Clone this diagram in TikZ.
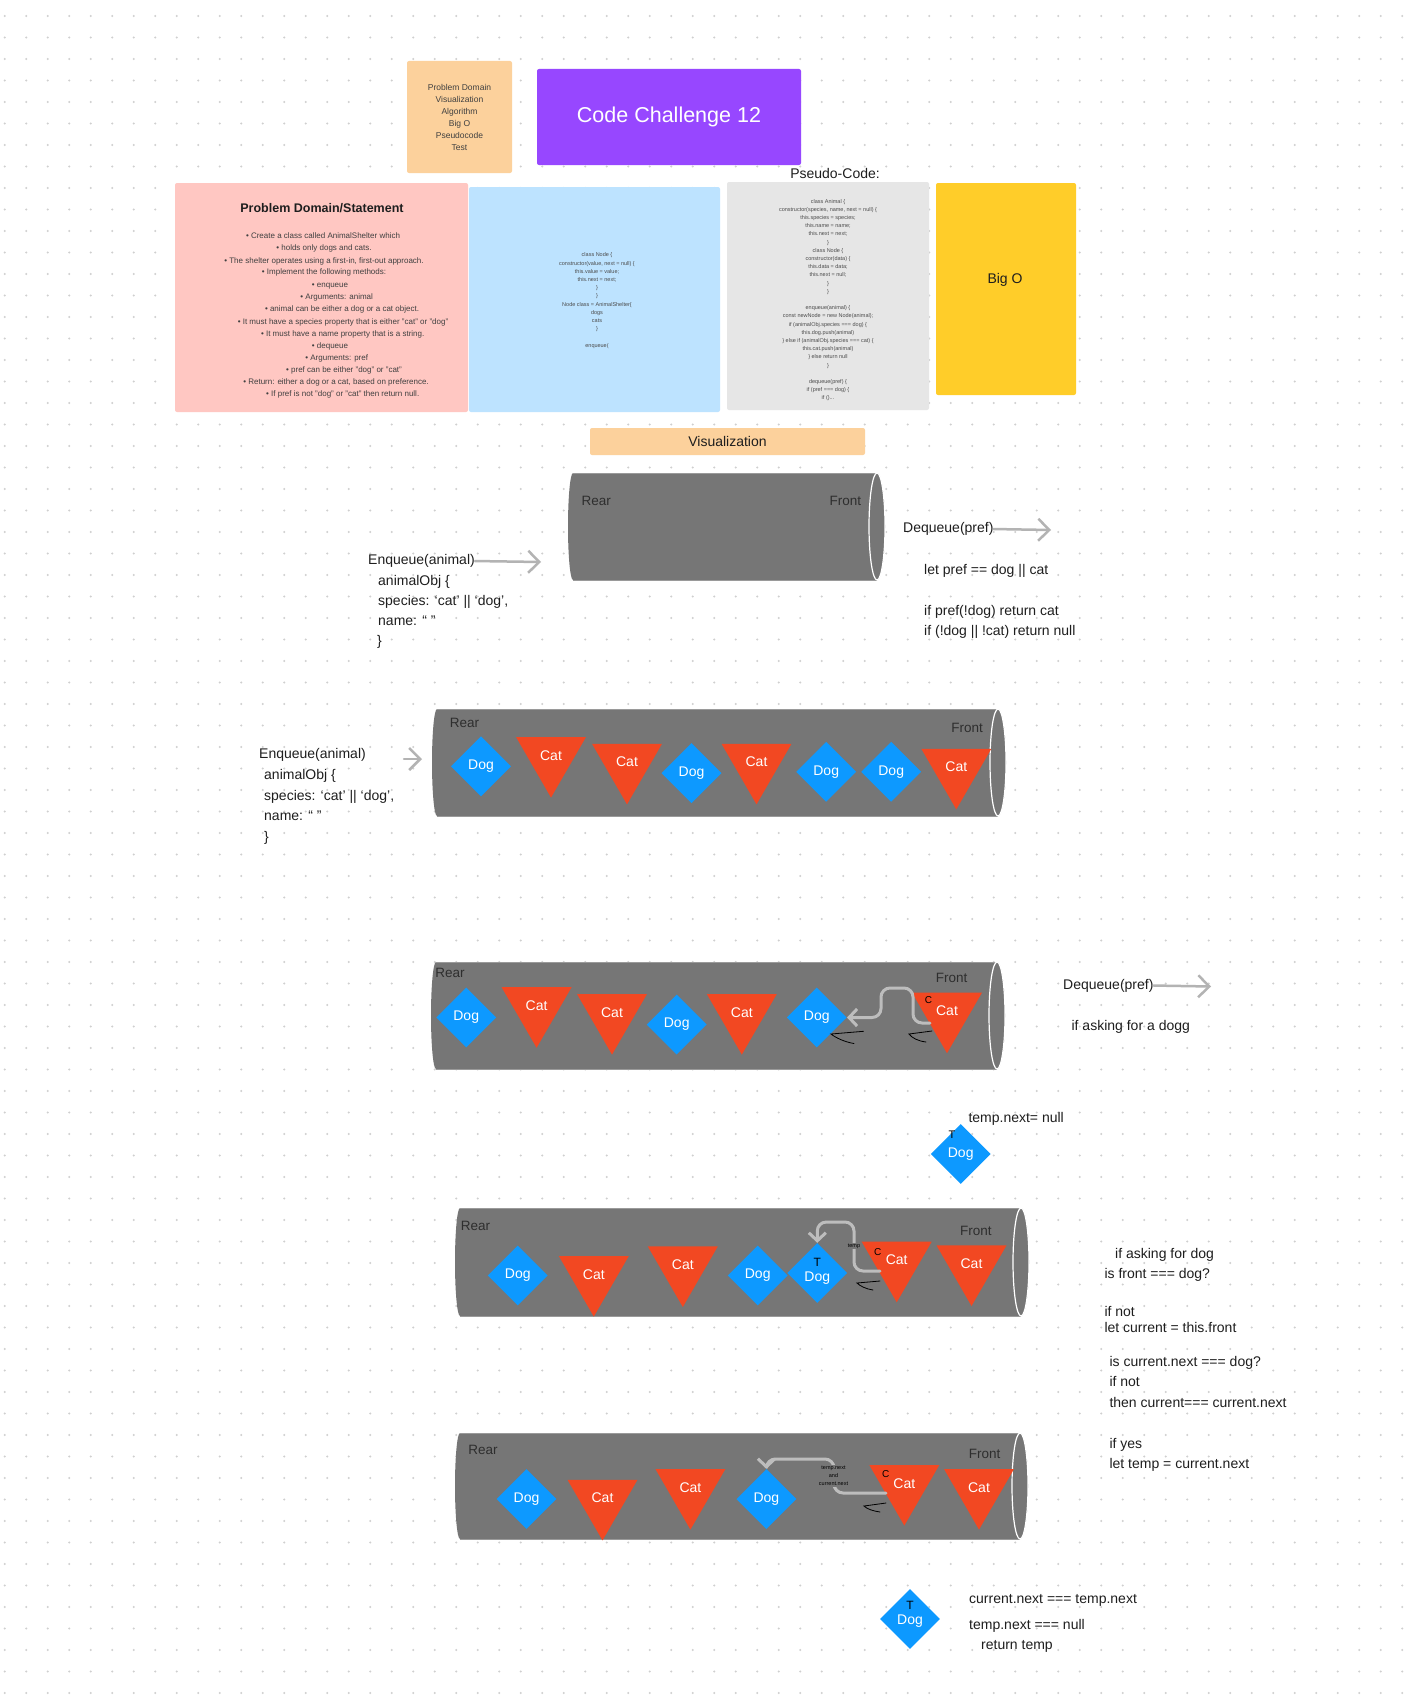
\documentclass[tikz,border=0pt]{standalone}
\usepackage{fontspec}
\setmainfont{Liberation Sans}
\usetikzlibrary{arrows.meta,shapes.geometric}
\definecolor{stickyc}{HTML}{FCD19C}
\definecolor{purplec}{HTML}{9747FF}
\definecolor{pinkc}{HTML}{FFC7C2}
\definecolor{bluec}{HTML}{BDE3FF}
\definecolor{grayboxc}{HTML}{E6E6E6}
\definecolor{yellowc}{HTML}{FFCD29}
\definecolor{cylc}{HTML}{767676}
\definecolor{cyledge}{HTML}{9A9A9A}
\definecolor{dogc}{HTML}{0D99FF}
\definecolor{catc}{HTML}{F24822}
\definecolor{arrc}{HTML}{B3B3B3}
\definecolor{connc}{HTML}{BDBDBD}
\definecolor{ink}{HTML}{1E1E1E}
\definecolor{dotc}{HTML}{CFCFCF}
\newcommand\fs[2]{\fontsize{#1}{#2}\selectfont}
\newcommand\tdog[1]{\raisebox{#1}[0pt][0pt]{\begin{tabular}{@{}c@{}}{\color{black}\fs{12}{15}T}\\Dog\end{tabular}}}
\newcommand\drawcyl[4]{%
  \pgfmathsetmacro\cylry{(#4-#3)/2}%
  \fill[cylc] (#1+5,#3) -- (#2,#3) arc[start angle=-90,end angle=90,x radius=8,y radius=\cylry] -- (#1+5,#4) arc[start angle=90,end angle=270,x radius=5,y radius=\cylry] -- cycle;
  \draw[cyledge,line width=0.8] (#1+5,#3) -- (#2,#3) (#1+5,#4) -- (#2,#4);
  \draw[white,line width=1.2,fill=cylc] (#2,#3+\cylry) ellipse[x radius=8,y radius=\cylry];
}
\begin{document}
\begin{tikzpicture}[x=1pt,y=-1pt,
  txt/.style={text=ink,inner sep=0,font=\fs{14}{17},yshift=-3pt},
  lbl/.style={text=black!82,inner sep=0,font=\fs{13.5}{16},yshift=-2.5pt},
  box/.style={rounded corners=2,inner sep=0},
  dogn/.style={diamond,fill=dogc,minimum width=60,minimum height=60,inner sep=0,text=white,font=\fs{14}{15}},
  catn/.style={regular polygon,regular polygon sides=3,shape border rotate=180,fill=catc,minimum size=80.8,inner sep=0,text=white,font=\fs{14}{16}},
  tlab/.style={text=black,inner sep=0,font=\fs{11}{12}},
  clab/.style={text=black,inner sep=0,font=\fs{10}{11}},
  tiny/.style={text=black,inner sep=1,fill=cylc,font=\fs{5.5}{8},align=center},
  bigarr/.style={draw=arrc,line width=2.5,line cap=round,-{Straight Barb[length=11pt,width=22pt]}},
  conn/.style={draw=connc,line width=3,rounded corners=9,line cap=round,-{Straight Barb[length=8pt,width=17pt]}},
  scrib/.style={draw=black,line width=0.8,line cap=round},
  pline/.style={text=ink!85,inner sep=0,font=\fs{8}{10},yshift=-1.5pt},
  code/.style={text=ink!80,inner sep=0,align=center,font=\fs{5.5}{8.2}}
]
\useasboundingbox (0,0) rectangle (1410,1702);
\fill[white] (0,0) rectangle (1410,1702);
\foreach \i in {0,...,65}{\foreach \j in {0,...,78}{\fill[dotc] (4.8+21.5*\i,16+21.5*\j) circle[radius=1.1];}}

% ---------- top boxes ----------
\node[box,fill=stickyc,minimum width=105,minimum height=112,align=center,text=ink!85,font=\fs{8.5}{12}] (sticky) at (459.5,117) {Problem Domain\\Visualization\\Algorithm\\Big O\\Pseudocode\\Test};
\node[box,fill=purplec,minimum width=264,minimum height=96,text=white,font=\fs{21.5}{24}] (title) at (669,117) {\raisebox{-3pt}{Code Challenge 12}};
\node[txt,anchor=mid] (pclabel) at (835,173) {Pseudo-Code:};
\node[box,fill=pinkc,minimum width=293,minimum height=229] (pink) at (321.5,297.5) {};
\node[box,fill=bluec,minimum width=251,minimum height=225] (blue) at (594.5,299.5) {};
\node[box,fill=grayboxc,minimum width=202,minimum height=228] (graybox) at (828,296) {};
\node[box,fill=yellowc,minimum width=140,minimum height=212] (bigo) at (1006,289) {};
\node[txt,anchor=mid] (bigotxt) at (1005,278) {Big O};
\node[box,fill=stickyc,minimum width=275,minimum height=27,text=ink,font=\fs{14}{17}] (viz) at (727.5,441.5) {\raisebox{-1pt}{Visualization}};

\node[inner sep=0,text=ink,font=\bfseries\fs{12.5}{15},anchor=mid,yshift=-2pt] (pdtitle) at (322,208) {Problem Domain/Statement};
\node[pline,anchor=mid] (p1) at (323,234.3) {• Create a class called AnimalShelter which};
\node[pline,anchor=mid] (p2) at (324,246.7) {• holds only dogs and cats.};
\node[pline,anchor=mid] (p3) at (324,259) {• The shelter operates using a first-in, first-out approach.};
\node[pline,anchor=mid] (p4) at (324,270.7) {• Implement the following methods:};
\node[pline,anchor=mid] (p5) at (330,283.3) {• enqueue};
\node[pline,anchor=mid] (p6) at (336.7,295.7) {• Arguments: animal};
\node[pline,anchor=mid] (p7) at (342,307.3) {• animal can be either a dog or a cat object.};
\node[pline,anchor=mid] (p8) at (343,320) {• It must have a species property that is either "cat" or "dog"};
\node[pline,anchor=mid] (p9) at (342.7,332) {• It must have a name property that is a string.};
\node[pline,anchor=mid] (p10) at (330,344) {• dequeue};
\node[pline,anchor=mid] (p11) at (336.7,356) {• Arguments: pref};
\node[pline,anchor=mid] (p12) at (344,368.3) {• pref can be either "dog" or "cat"};
\node[pline,anchor=mid] (p13) at (336,380.7) {• Return: either a dog or a cat, based on preference.};
\node[pline,anchor=mid] (p14) at (342.7,392.7) {• If pref is not "dog" or "cat" then return null.};

\node[code] (bluecode) at (597,300.5) {class Node \{\\constructor(value, next = null) \{\\this.value = value;\\this.next = next;\\\}\\\}\\Node class = AnimalShelter\{\\dogs\\cats\\\}\\~\\enqueue(};
\node[code] (graycode) at (828,300) {class Animal \{\\constructor(species, name, next = null) \{\\this.species = species;\\this.name = name;\\this.next = next;\\\}\\class Node \{\\constructor(data) \{\\this.data = data;\\this.next = null;\\\}\\\}\\~\\enqueue(animal) \{\\const newNode = new Node(animal);\\if (animalObj.species === dog) \{\\this.dog.push(animal)\\\} else if (animalObj.species === cat) \{\\this.cat.push(animal)\\\} else return null\\\}\\~\\dequeue(pref) \{\\if (pref === dog) \{\\if ()...};

% ---------- cylinder 1 ----------
\drawcyl{568}{877}{473}{580}
\node[lbl,anchor=mid] (rear1) at (596.3,500) {Rear};
\node[lbl,anchor=mid] (front1) at (845.3,500) {Front};

\node[txt,anchor=mid west] (enq1) at (368,559) {Enqueue(animal)};
\node[txt,anchor=mid west] (enq1b) at (378,580) {animalObj \{};
\node[txt,anchor=mid west] (enq1c) at (378,599.5) {species: ‘cat’ || ‘dog’,};
\node[txt,anchor=mid west] (enq1d) at (378,620) {name: “ ”};
\node[txt,anchor=mid west] (enq1e) at (377,640) {\}};
\coordinate (a1e) at (541,562);
\draw[bigarr] (enq1.east) -- (a1e);

\node[txt,anchor=mid west] (dq1) at (903,527) {Dequeue(pref)};
\coordinate (a3e) at (1051,530);
\draw[bigarr] (dq1.east) -- (a3e);
\node[txt,anchor=mid west] (dq1b) at (924,569) {let pref == dog || cat};
\node[txt,anchor=mid west] (dq1c) at (924,610) {if pref(!dog) return cat};
\node[txt,anchor=mid west] (dq1d) at (924,630) {if (!dog || !cat) return null};

% ---------- cylinder 2 ----------
\drawcyl{432}{998}{709}{816}
\node[lbl,anchor=mid] (rear2) at (464.5,722.4) {Rear};
\node[lbl,anchor=mid] (front2) at (967,727) {Front};
\node[dogn] (d21) at (481,766.4) {Dog};
\node[catn] (c21) at (551,757.2) {\raisebox{4pt}{Cat}};
\node[catn] (c22) at (627,764) {\raisebox{4pt}{Cat}};
\node[dogn] (d22) at (691.5,773.1) {Dog};
\node[catn] (c23) at (756.5,764) {\raisebox{4pt}{Cat}};
\node[dogn] (d23) at (826.2,771.8) {Dog};
\node[dogn] (d24) at (891.2,771.8) {Dog};
\node[catn] (c24) at (956.3,769) {\raisebox{4pt}{Cat}};

\node[txt,anchor=mid west] (enq2) at (259,753) {Enqueue(animal)};
\node[txt,anchor=mid west] (enq2b) at (264,774) {animalObj \{};
\node[txt,anchor=mid west] (enq2c) at (264,794.7) {species: ‘cat’ || ‘dog’,};
\node[txt,anchor=mid west] (enq2d) at (264,815.3) {name: “ ”};
\node[txt,anchor=mid west] (enq2e) at (264,836) {\}};
\coordinate (a2s) at (404,759);
\coordinate (a2e) at (422,759);
\draw[bigarr] (a2s) -- (a2e);

% ---------- cylinder 3 ----------
\drawcyl{431}{997}{962}{1069}
\node[lbl,anchor=mid] (rear3) at (450,972) {Rear};
\node[lbl,anchor=mid] (front3) at (951.5,977.5) {Front};
\node[dogn] (d31) at (466.2,1017.5) {Dog};
\node[catn] (c31) at (536.6,1007.4) {\raisebox{4pt}{Cat}};
\node[catn] (c32) at (612,1014.2) {\raisebox{4pt}{Cat}};
\node[dogn] (d32) at (676.7,1024.6) {Dog};
\node[catn] (c33) at (741.8,1014.2) {\raisebox{4pt}{Cat}};
\node[dogn] (d33) at (816.8,1017.5) {Dog};
\node[catn] (c34) at (947,1012.8) {\raisebox{4pt}{Cat}};
\node[clab] (cc3) at (928.5,1000) {C};
\coordinate (s3) at (930,1023);
\draw[conn] (s3) -- (913,1023) -- (913,988) -- (881,988) -- (881,1017.5) -- (d33.east);
\draw[scrib] (863.5,1031.3) -- (831,1034) .. controls (836,1038) and (845,1042) .. (854,1043.5);
\draw[scrib] (932,1031) -- (909,1034) .. controls (912,1038) and (918,1041) .. (926,1042);

\node[txt,anchor=mid west] (dq2) at (1063,983.5) {Dequeue(pref)};
\coordinate (a4e) at (1211,986.5);
\draw[bigarr] (dq2.east) -- (a4e);
\node[txt,anchor=mid west] (dq2b) at (1071.4,1024.7) {if asking for a dogg};

\node[txt,anchor=mid west] (tnn) at (968.3,1117) {temp.next= null};
\node[dogn] (td1) at (960.7,1154) {\raisebox{-4pt}{Dog}};
\node[tlab] (tt1) at (952,1135) {T};

% ---------- cylinder 4 ----------
\drawcyl{455}{1021}{1208}{1316}
\node[lbl,anchor=mid] (rear4) at (475.5,1225.6) {Rear};
\node[lbl,anchor=mid] (front4) at (975.9,1230) {Front};
\node[dogn] (d41) at (517.8,1275.5) {Dog};
\node[catn] (c41) at (593.8,1276.2) {\raisebox{4pt}{Cat}};
\node[catn] (c42) at (682.8,1266.6) {\raisebox{4pt}{Cat}};
\node[dogn] (d42) at (757.7,1275.5) {Dog};
\node[dogn] (td4) at (817.3,1273) {\tdog{-1.3pt}};
\node[catn] (c43) at (896.7,1261.9) {\raisebox{4pt}{Cat}};
\node[catn] (c44) at (971.5,1265.6) {\raisebox{4pt}{Cat}};
\node[clab] (cc4) at (877.7,1252.3) {C};
\coordinate (s4) at (880,1271);
\draw[conn] (s4) -- (854,1271) -- (854,1222) -- (817.3,1222) -- (td4.north);
\node[tiny] (templ) at (854,1246) {temp};
\draw[scrib] (880,1281) -- (857,1283) .. controls (860,1286) and (866,1289) .. (873,1290);

% ---------- cylinder 5 ----------
\drawcyl{455}{1020}{1433}{1539}
\node[lbl,anchor=mid] (rear5) at (483,1449) {Rear};
\node[lbl,anchor=mid] (front5) at (984.6,1453.5) {Front};
\node[dogn] (d51) at (526.5,1499) {Dog};
\node[catn] (c51) at (602.5,1500) {\raisebox{4pt}{Cat}};
\node[catn] (c52) at (690.4,1489.2) {\raisebox{4pt}{Cat}};
\node[dogn] (d52) at (766.4,1499) {Dog};
\node[catn] (c53) at (904.3,1485.2) {\raisebox{4pt}{Cat}};
\node[catn] (c54) at (979,1489.2) {\raisebox{4pt}{Cat}};
\node[clab] (cc5) at (885.7,1474.5) {C};
\coordinate (s5) at (886,1493);
\draw[conn] (s5) -- (834,1493) -- (834,1459) -- (766.4,1459) -- (d52.north);
\node[tiny] (tnext) at (833.5,1476) {temp.next\\and\\current.next};
\draw[scrib] (886,1503) -- (864,1506) .. controls (867,1509) and (873,1511) .. (880,1512);

% ---------- right text ----------
\node[txt,anchor=mid west] (r1) at (1115,1252.7) {if asking for dog};
\node[txt,anchor=mid west] (r2) at (1104.3,1273.3) {is front === dog?};
\node[txt,anchor=mid west] (r3) at (1104.3,1311) {if not};
\node[txt,anchor=mid west] (r4) at (1104.3,1326.7) {let current = this.front};
\node[txt,anchor=mid west] (r5) at (1109.3,1361) {is current.next === dog?};
\node[txt,anchor=mid west] (r6) at (1109.3,1381) {if not};
\node[txt,anchor=mid west] (r7) at (1109.3,1401.7) {then current=== current.next};
\node[txt,anchor=mid west] (r8) at (1109.3,1442.7) {if yes};
\node[txt,anchor=mid west] (r9) at (1109.3,1463.3) {let temp = current.next};

% ---------- bottom ----------
\node[dogn] (td6) at (910,1619) {\tdog{1.5pt}};
\node[txt,anchor=mid west] (b1) at (969,1598.3) {current.next === temp.next};
\node[txt,anchor=mid west] (b2) at (969,1623.5) {temp.next === null};
\node[txt,anchor=mid west] (b3) at (981,1644.3) {return temp};
\end{tikzpicture}
\end{document}
